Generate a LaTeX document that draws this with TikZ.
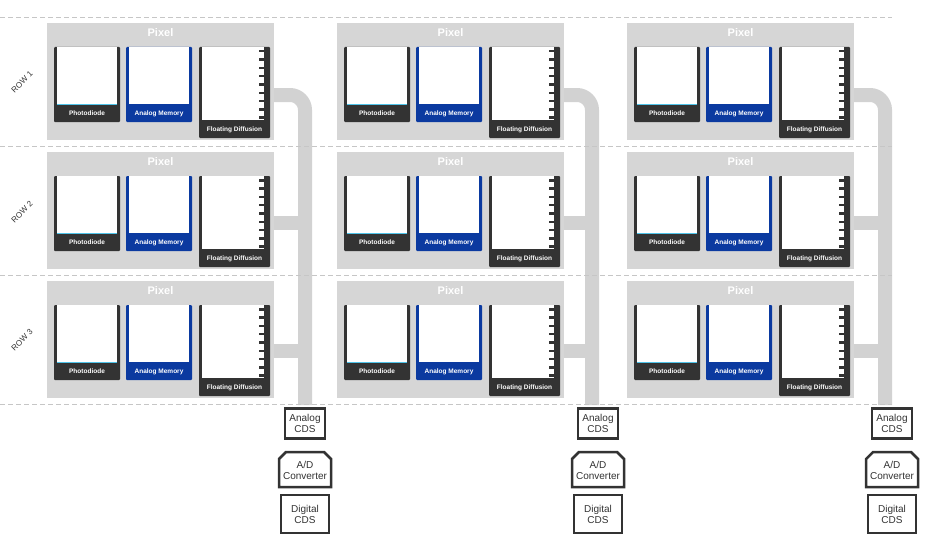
\documentclass[tikz,border=0pt]{standalone}
\usepackage{fontspec}
\setmainfont{Liberation Sans}
\definecolor{pixg}{HTML}{D6D6D6}
\definecolor{busg}{HTML}{D2D2D2}
\definecolor{dk}{HTML}{333333}
\definecolor{amb}{HTML}{0B3AA0}
\definecolor{pdc}{HTML}{4FC3E8}
\begin{document}
\begin{tikzpicture}[x=1pt,y=-1pt,
  lbl/.style={font=\bfseries\fontsize{6.5}{7}\selectfont,text=white,inner sep=0},
  ttl/.style={font=\bfseries\fontsize{11}{12}\selectfont,text=white,inner sep=0},
  unit/.style={draw=dk,line width=2.5pt,fill=white,font=\fontsize{10}{11}\selectfont,align=center,inner sep=0,text=dk},
  bus/.style={busg,line width=14pt}]
\useasboundingbox (0,0) rectangle (925,551);
\fill[white] (0,0) rectangle (925,551);
\foreach \c/\bx in {0/305,1/592,2/885}{
  \pgfmathsetmacro{\ox}{\c*290}
  \begin{scope}[xshift=\ox]
  \draw[bus,rounded corners=15pt] (270,95) -- (\bx-\ox,95) -- (\bx-\ox,405);
  \draw[bus] (270,223) -- (\bx-\ox,223);
  \draw[bus] (270,351) -- (\bx-\ox,351);
  \end{scope}
}
\foreach \c in {0,1,2}{
 \foreach \r in {0,1,2}{
  \pgfmathsetmacro{\ox}{\c*290}
  \pgfmathsetmacro{\oy}{\r*129}
  \begin{scope}[xshift=\ox,yshift=-\oy]
   \fill[pixg] (47,23) rectangle (274,140);
   \node[ttl] (t\c\r) at (160.5,33) {Pixel};
   \fill[dk,rounded corners=1pt] (54,47) rectangle (120,122);
   \fill[white] (57,47) rectangle (117,104);
   \draw[pdc,line width=1pt] (57,104) -- (117,104);
   \node[lbl] (pd\c\r) at (87,113.5) {Photodiode};
   \fill[amb,rounded corners=1pt] (126,47) rectangle (192,122);
   \fill[white] (129,47) rectangle (189,104);
   \node[lbl] (am\c\r) at (159,113.5) {Analog Memory};
   \fill[dk,rounded corners=1pt] (199,47) rectangle (270,138);
   \fill[white] (202,47) rectangle (264,120);
   \foreach \k in {0,...,8}{\fill[dk] (259,{50+\k*8.3}) rectangle (266,{52.5+\k*8.3});}
   \node[lbl] (fd\c\r) at (234.5,129.5) {Floating Diffusion};
  \end{scope}
 }
}
\foreach \y in {17,146,275,404}{\draw[gray!45,dashed,dash pattern=on 5pt off 3pt,line width=0.8pt] (0,\y) -- (892,\y);}
\foreach \r/\y in {1/82,2/212,3/340}{\node[inner sep=0,font=\fontsize{8}{9}\selectfont,text=dk] (row\r) at (22,\y) {\rotatebox{45}{ROW \r}};}
\foreach \c/\bx in {0/305,1/598,2/892}{
  \node[unit,minimum width=40pt,minimum height=30pt] (ac\c) at (\bx,423.5) {Analog\\CDS};
  \draw[dk,line width=2.5pt,fill=white] (\bx-26,487) -- (\bx-26,459) -- (\bx-19,452) -- (\bx+19,452) -- (\bx+26,459) -- (\bx+26,487) -- cycle;
  \node[font=\fontsize{10}{11}\selectfont,align=center,inner sep=0,text=dk] (ad\c) at (\bx,470) {A/D\\Converter};
  \node[unit,minimum width=48pt,minimum height=38pt] (dc\c) at (\bx,514) {Digital\\CDS};
}
\end{tikzpicture}
\end{document}
